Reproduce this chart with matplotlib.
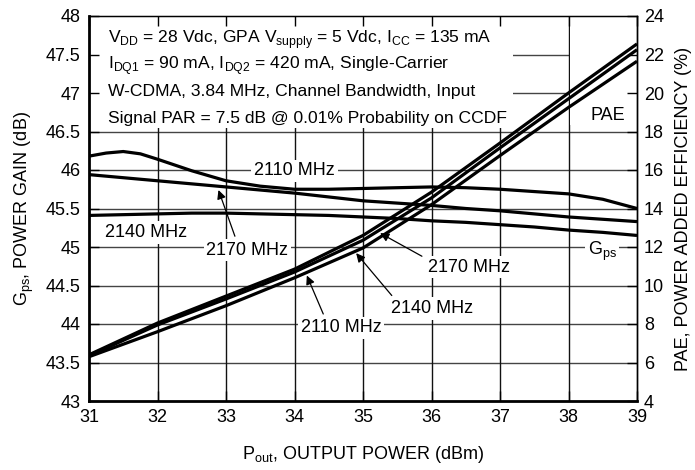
import matplotlib
matplotlib.use("Agg")
import matplotlib.pyplot as plt
from matplotlib.patches import Rectangle

plt.rcParams["font.family"] = ["Liberation Sans Narrow", "Liberation Sans", "DejaVu Sans"]
plt.rcParams["mathtext.fontset"] = "custom"
plt.rcParams["mathtext.rm"] = "Liberation Sans"
plt.rcParams["font.size"] = 13

# output power (dBm)
pout_2110 = [31, 31.25, 31.5, 31.75, 32, 32.5, 33, 33.5, 34, 34.5, 35, 35.5, 36,
             36.5, 37, 37.5, 38, 38.5, 39]
pout_gain = [31, 31.5, 32, 32.5, 33, 33.5, 34, 34.5, 35, 35.5, 36, 36.5, 37, 37.5, 38, 38.5, 39]
pout_pae = [31, 32, 33, 34, 35, 36, 37, 38, 39]

# power gain (dB)
gain_2110 = [46.18, 46.22, 46.24, 46.21, 46.14, 45.99, 45.86, 45.79, 45.75, 45.75,
             45.76, 45.77, 45.78, 45.77, 45.75, 45.72, 45.69, 45.62, 45.50]
gain_2170 = [45.94, 45.90, 45.86, 45.82, 45.78, 45.74, 45.70, 45.65, 45.60, 45.57,
             45.54, 45.50, 45.47, 45.43, 45.39, 45.36, 45.33]
gain_2140 = [45.41, 45.42, 45.43, 45.44, 45.44, 45.43, 45.42, 45.41, 45.39, 45.37,
             45.34, 45.32, 45.29, 45.26, 45.22, 45.19, 45.15]

# power added efficiency (%)
pae_2170 = [6.4, 8.05, 9.45, 10.85, 12.6, 14.85, 17.4, 20.0, 22.55]
pae_2140 = [6.35, 7.95, 9.3, 10.7, 12.35, 14.55, 17.15, 19.7, 22.25]
pae_2110 = [6.3, 7.6, 8.95, 10.4, 11.95, 14.2, 16.75, 19.25, 21.65]

x_ticks = [31, 32, 33, 34, 35, 36, 37, 38, 39]
gain_ticks = [43, 43.5, 44, 44.5, 45, 45.5, 46, 46.5, 47, 47.5, 48]
pae_ticks = [4, 6, 8, 10, 12, 14, 16, 18, 20, 22, 24]

conditions = [
    r"V$_{\rm DD}$ = 28 Vdc, GPA V$_{\rm supply}$ = 5 Vdc, I$_{\rm CC}$ = 135 mA",
    r"I$_{\rm DQ1}$ = 90 mA, I$_{\rm DQ2}$ = 420 mA, Single-Carrier",
    "W-CDMA, 3.84 MHz, Channel Bandwidth, Input",
    "Signal PAR = 7.5 dB @ 0.01% Probability on CCDF",
]

fig, ax = plt.subplots(figsize=(6.95, 4.7), dpi=100)
fig.subplots_adjust(left=89 / 695, right=637 / 695, bottom=69 / 470, top=454 / 470)

ax.set_xlim(31, 39)
ax.set_ylim(43, 48)

# grid drawn by hand so the white boxes can sit over it but under the ticks
for g in gain_ticks[1:-1]:
    ax.axhline(g, color="#444444", lw=1.0, zorder=0.6)
for x in x_ticks[1:-1]:
    ax.axvline(x, color="#111111", lw=1.0, zorder=0.6)

# white areas behind the condition text and the PAE tag
ax.add_patch(Rectangle((0, 0.71), 0.774, 0.29, transform=ax.transAxes,
                       facecolor="white", edgecolor="none", zorder=0.8))
ax.add_patch(Rectangle((0.878, 0.717), 0.122, 0.283, transform=ax.transAxes,
                       facecolor="white", edgecolor="none", zorder=0.8))

line_kw = dict(color="black", lw=2.3, solid_capstyle="butt", zorder=2)
ax.plot(pout_2110, gain_2110, **line_kw)
ax.plot(pout_gain, gain_2170, **line_kw)
ax.plot(pout_gain, gain_2140, **line_kw)

ax.set_xticks(x_ticks)
ax.set_yticks(gain_ticks)
ax.set_yticklabels([f"{g:g}" for g in gain_ticks])
ax.tick_params(direction="in", length=7, width=1.0, labelsize=13, pad=6, top=True)
ax.set_xlabel(r"P$_{\rm out}$, OUTPUT POWER (dBm)", fontsize=13, labelpad=13)
ax.set_ylabel(r"G$_{\rm ps}$, POWER GAIN (dB)", fontsize=13, labelpad=7)

for side in ["left", "bottom"]:
    ax.spines[side].set_linewidth(2.0)
for side in ["top", "right"]:
    ax.spines[side].set_linewidth(1.0)

ax2 = ax.twinx()
ax2.set_ylim(4, 24)
ax2.set_yticks(pae_ticks)
ax2.tick_params(direction="in", length=7, width=1.0, labelsize=13, pad=5)
ax2.set_ylabel("PAE, POWER ADDED EFFICIENCY (%)", fontsize=13, labelpad=8)
ax2.plot(pout_pae, pae_2170, **line_kw)
ax2.plot(pout_pae, pae_2140, **line_kw)
ax2.plot(pout_pae, pae_2110, **line_kw)
ax2.spines["right"].set_linewidth(1.0)
ax2.spines["left"].set_visible(False)
ax2.spines["bottom"].set_visible(False)

# test conditions
for i, line in enumerate(conditions):
    ax.text(0.035, 0.94 - i * 0.0685, line, transform=ax.transAxes,
            ha="left", va="center", fontsize=12.6, zorder=1)

box = dict(facecolor="white", edgecolor="none", pad=2)
ax.text(34.0, 45.99, "2110 MHz", ha="center", va="center", bbox=box, zorder=1)
ax.text(31.83, 45.19, "2140 MHz", ha="center", va="center", bbox=box, zorder=1)
ax.text(33.31, 44.96, "2170 MHz", ha="center", va="center", bbox=box, zorder=1)
ax.text(36.55, 44.74, "2170 MHz", ha="center", va="center", bbox=box, zorder=1)
ax.text(36.01, 44.20, "2140 MHz", ha="center", va="center", bbox=box, zorder=1)
ax.text(34.68, 43.95, "2110 MHz", ha="center", va="center", bbox=box, zorder=1)
ax.text(38.49, 44.94, r"G$_{\rm ps}$", ha="center", va="center", bbox=box, zorder=1)
ax.text(38.57, 46.71, "PAE", ha="center", va="center", zorder=1)

arrow = dict(arrowstyle="-|>", color="black", lw=0.9, mutation_scale=13,
             shrinkA=0, shrinkB=0)
ax.annotate("", xy=(32.89, 45.74), xytext=(33.13, 45.14), arrowprops=arrow, zorder=3)
ax.annotate("", xy=(35.25, 45.18), xytext=(35.86, 44.88), arrowprops=arrow, zorder=3)
ax.annotate("", xy=(34.90, 44.92), xytext=(35.42, 44.37), arrowprops=arrow, zorder=3)
ax.annotate("", xy=(34.18, 44.63), xytext=(34.42, 44.13), arrowprops=arrow, zorder=3)

fig.savefig("out.png", dpi=100)
